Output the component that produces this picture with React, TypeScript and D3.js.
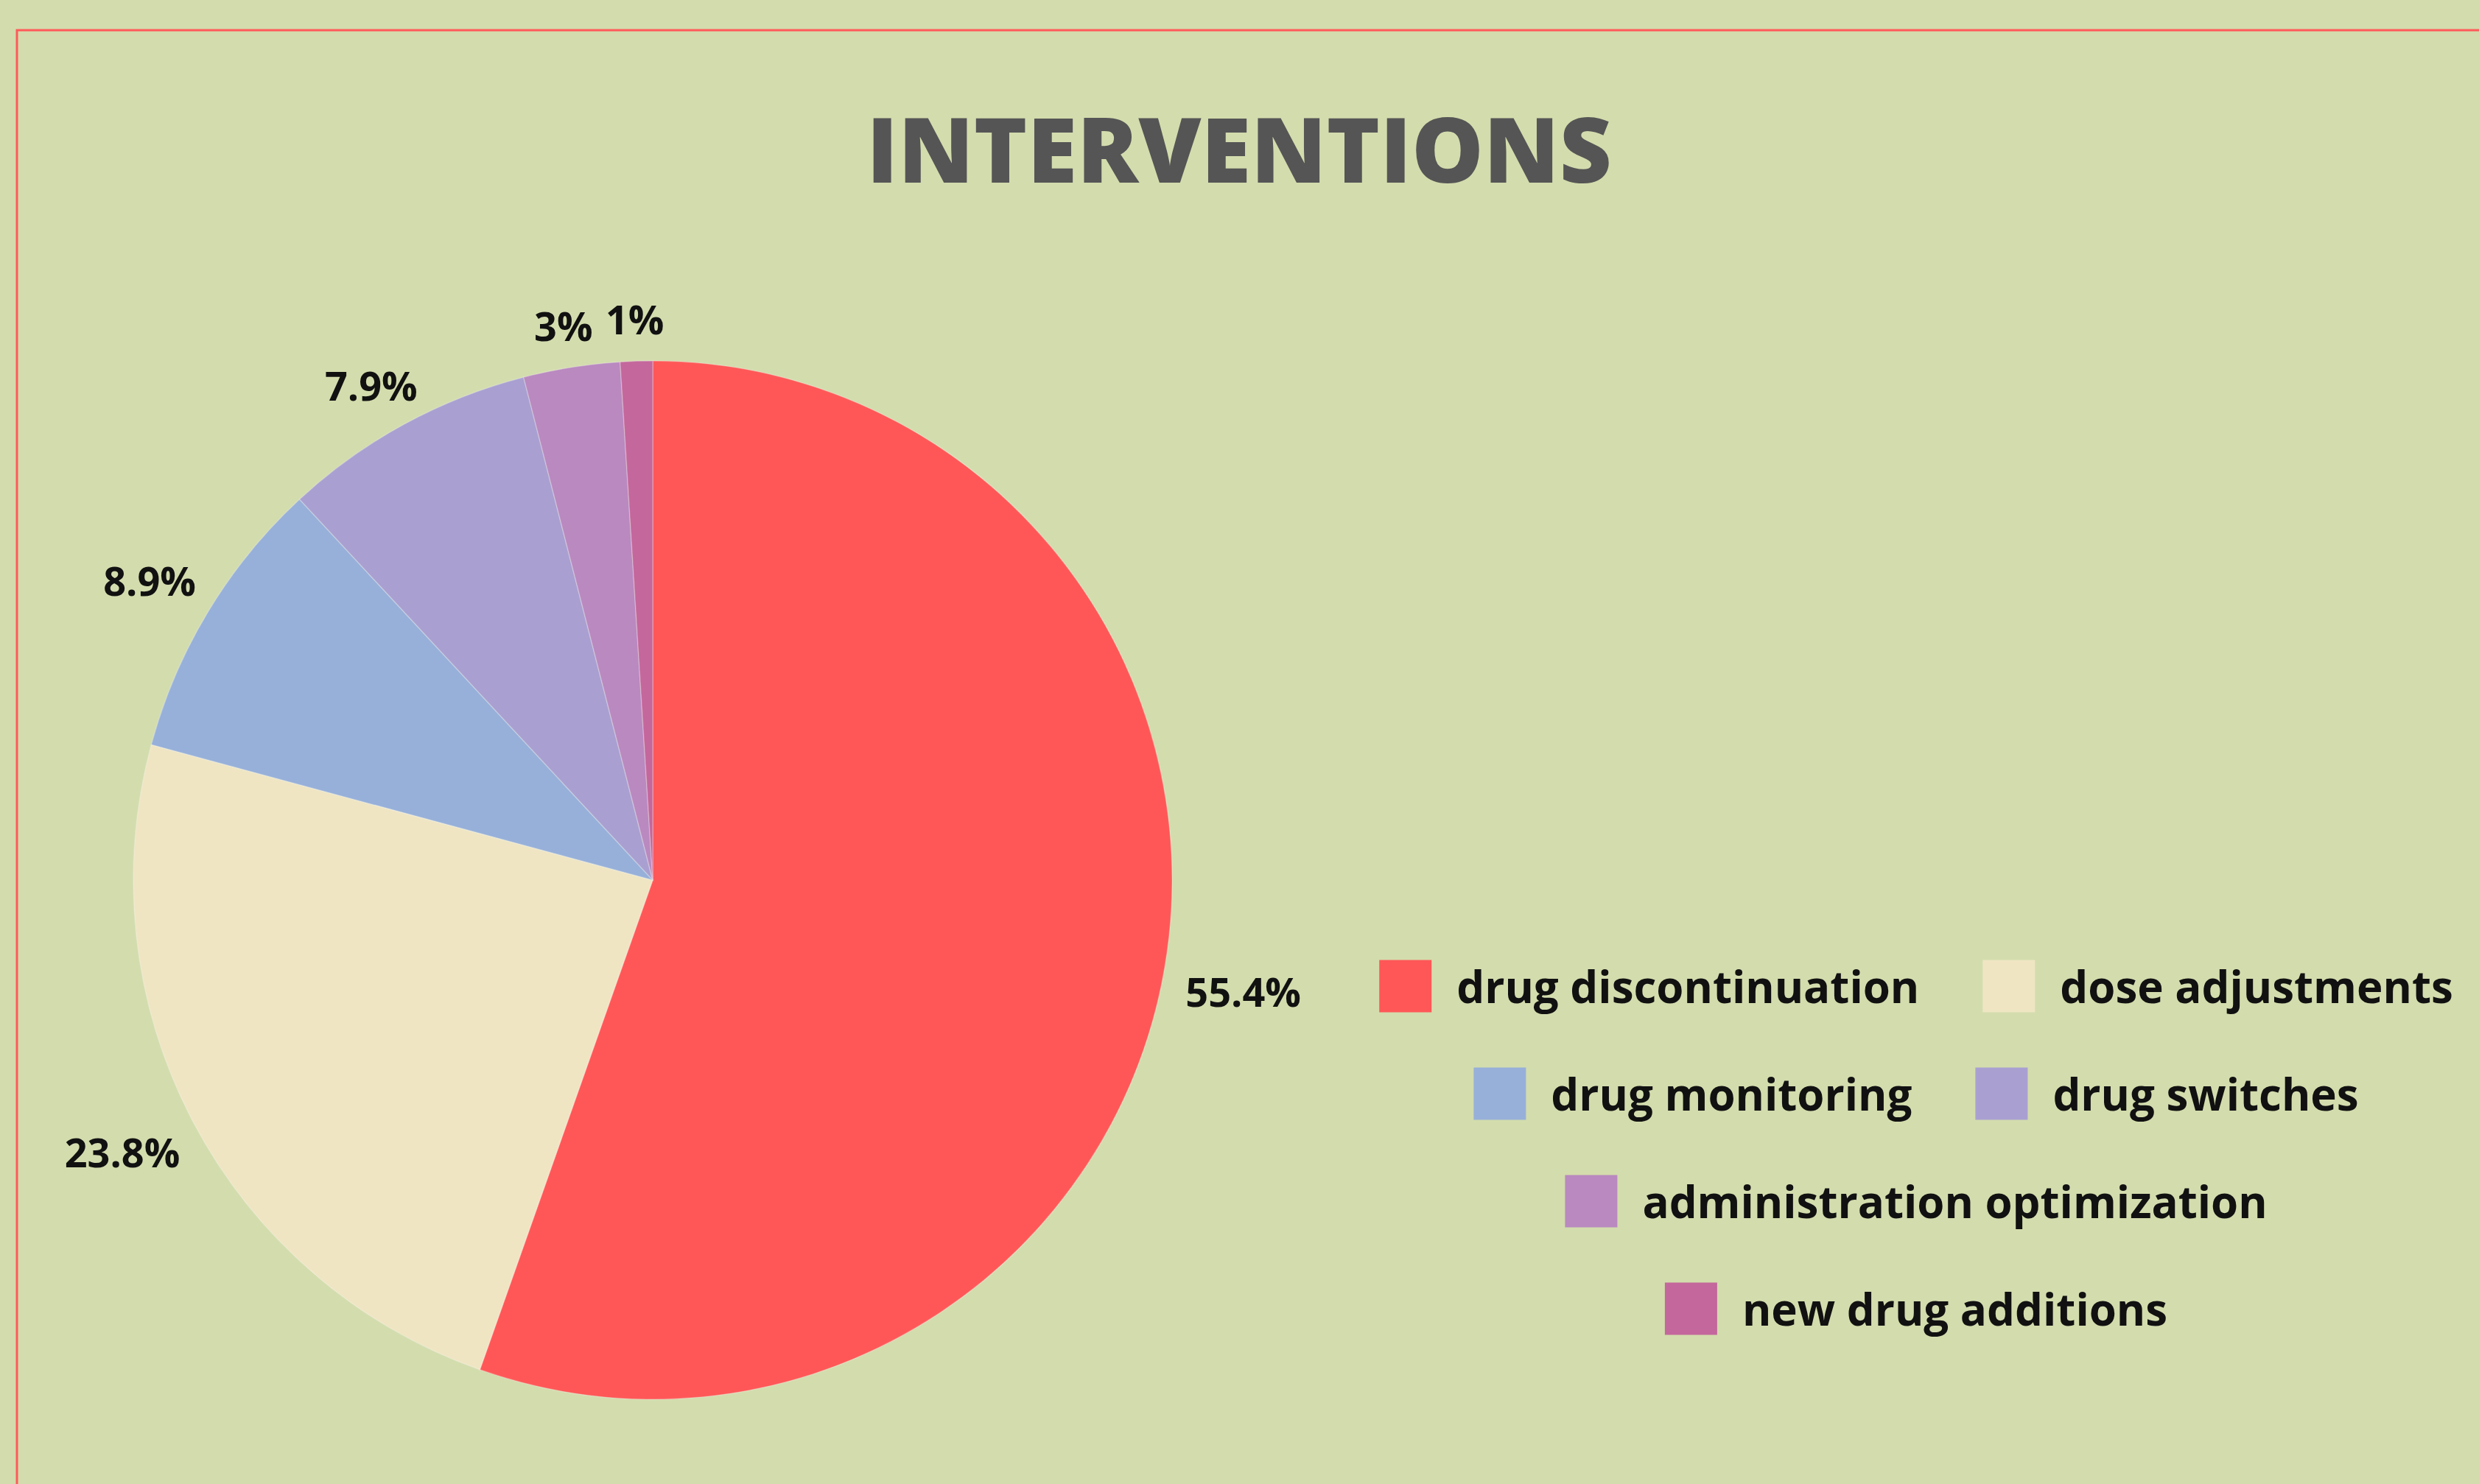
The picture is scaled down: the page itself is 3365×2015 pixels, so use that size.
import React, { useEffect, useRef } from 'react';
import * as d3 from 'd3';

const categories = [
  'drug discontinuation',
  'dose adjustments',
  'drug monitoring',
  'drug switches',
  'administration optimization',
  'new drug additions',
];
const shares = [55.4, 23.8, 8.9, 7.9, 3, 1];
const colors = ['#ff5757', '#efe5c3', '#97b0d9', '#a9a0d1', '#b989c0', '#c4679c'];

const W = 3365;
const H = 2015;

export default function App() {
  const svgRef = useRef<SVGSVGElement>(null);

  useEffect(() => {
    if (!svgRef.current) return;
    const svg = d3.select(svgRef.current);
    svg.selectAll('*').remove();

    const font = '"Open Sans", "DejaVu Sans", sans-serif';

    svg.append('rect').attr('width', W).attr('height', H).attr('fill', '#d3dcad');
    svg.append('rect')
      .attr('x', 23).attr('y', 41)
      .attr('width', W + 50).attr('height', H + 50)
      .attr('fill', 'none')
      .attr('stroke', '#ff5a5a')
      .attr('stroke-width', 3);

    svg.append('text')
      .attr('x', 1682).attr('y', 248)
      .attr('text-anchor', 'middle')
      .attr('font-family', font)
      .attr('font-weight', 800)
      .attr('font-size', 123)
      .attr('fill', '#555555')
      .text('INTERVENTIONS');

    // pie
    const cx = 886, cy = 1195, r = 705;
    const g = svg.append('g').attr('transform', `translate(${cx},${cy})`);
    const pie = d3.pie<number>().sort(null).value(d => d);
    const arcs = pie(shares);
    const arc = d3.arc<d3.PieArcDatum<number>>().innerRadius(0).outerRadius(r);

    g.selectAll('path.slice')
      .data(arcs)
      .enter().append('path')
      .attr('class', 'slice')
      .attr('d', arc)
      .attr('fill', (_, i) => colors[i])
      .attr('stroke', 'rgba(255,255,255,0.25)')
      .attr('stroke-width', 1.5);

    // outside-end labels: horizontal shift follows the angle, vertical shift by side
    const pad = 30;
    arcs.forEach(a => {
      const mid = (a.startAngle + a.endAngle) / 2;
      const t = g.append('text')
        .attr('font-family', font)
        .attr('font-weight', 700)
        .attr('font-size', 54)
        .attr('fill', '#111')
        .attr('text-anchor', 'middle')
        .attr('dominant-baseline', 'central')
        .text(`${a.data}%`);
      const w = (t.node() as SVGTextElement).getComputedTextLength();
      const hh = 27;
      const sx = Math.sin(mid), sy = -Math.cos(mid);
      t.attr('x', sx * (r + pad) + sx * w / 2)
        .attr('y', sy * (r + pad) + Math.sign(sy) * hh);
    });

    // legend
    const legend = svg.append('g');
    const fs = 60;
    const sq = 71, gapText = 34, gapItem = 86, maxRow = 1560;
    const legendCx = 2601, rowY0 = 1339, rowStep = 146;
    const items = categories.map((c, i) => {
      const tmp = legend.append('text')
        .attr('font-family', font).attr('font-weight', 700).attr('font-size', fs)
        .text(c);
      const tw = (tmp.node() as SVGTextElement).getComputedTextLength();
      tmp.remove();
      return { c, i, w: sq + gapText + tw };
    });
    const rows: typeof items[] = [];
    let cur: typeof items = [];
    let curW = 0;
    items.forEach(it => {
      const nw = cur.length ? curW + gapItem + it.w : it.w;
      if (cur.length && nw > maxRow) {
        rows.push(cur);
        cur = [it];
        curW = it.w;
      } else {
        cur.push(it);
        curW = nw;
      }
    });
    if (cur.length) rows.push(cur);

    rows.forEach((row, ri) => {
      const total = row.reduce((s, it) => s + it.w, 0) + gapItem * (row.length - 1);
      let x = legendCx - total / 2;
      const y = rowY0 + ri * rowStep;
      row.forEach(it => {
        legend.append('rect')
          .attr('x', x).attr('y', y - sq / 2)
          .attr('width', sq).attr('height', sq)
          .attr('fill', colors[it.i]);
        legend.append('text')
          .attr('x', x + sq + gapText).attr('y', y)
          .attr('dominant-baseline', 'central')
          .attr('font-family', font).attr('font-weight', 700).attr('font-size', fs)
          .attr('fill', '#111')
          .text(it.c);
        x += it.w + gapItem;
      });
    });
  }, []);

  return (
    <svg
      ref={svgRef}
      width={W}
      height={H}
      style={{ position: 'absolute', left: 0, top: 0, display: 'block' }}
    />
  );
}
